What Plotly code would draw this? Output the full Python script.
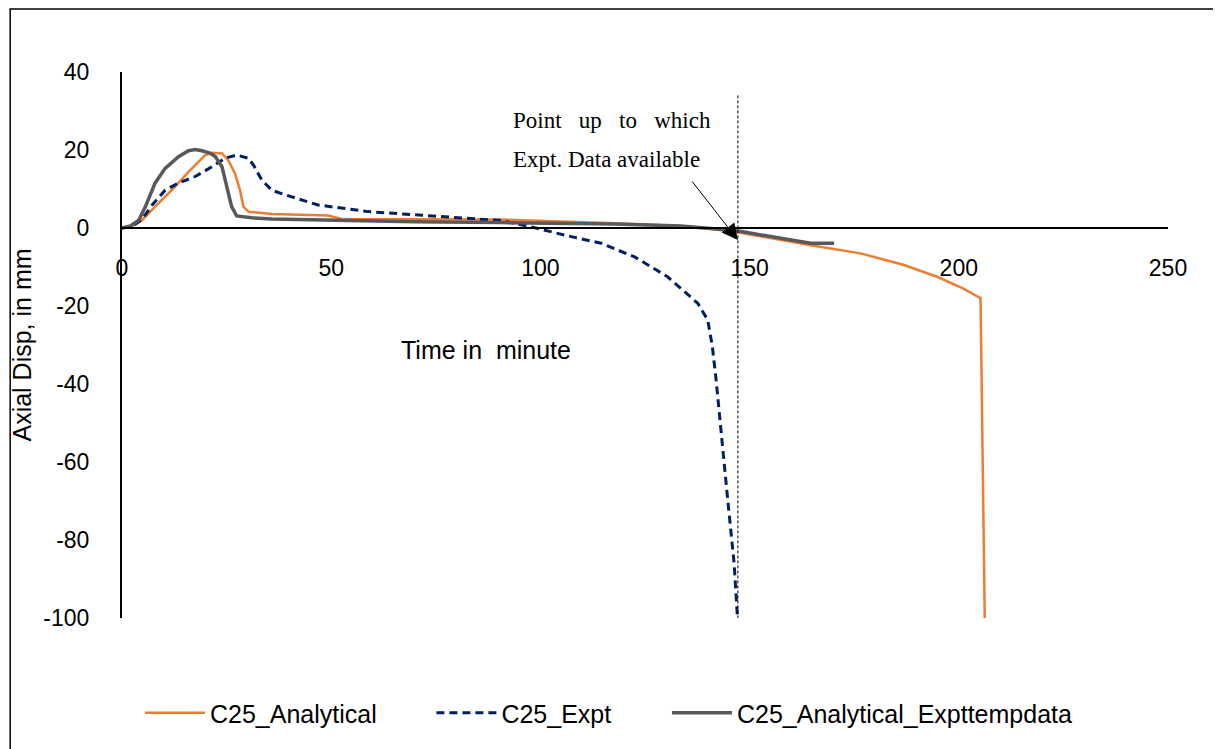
import plotly.graph_objects as go

# ---- data ----
analytical_time = [0, 2.5, 4.8, 7.9, 11.9, 15.9, 19.9, 21.5, 23.9, 25.4, 27, 28.2, 29, 30.2,
                   35.8, 49.3, 52.5, 70, 90.6, 117.7, 133.6, 140, 147.1, 164.6, 176.5,
                   186.9, 194.8, 201, 205.2, 206.2]
analytical_disp = [0, 0.6, 2, 5.5, 9.7, 14.4, 18.7, 19.3, 19.1, 17.4, 14, 9.7, 5.5, 4.2,
                   3.6, 3.2, 2.3, 2.2, 2.2, 1.2, 0.5, -0.1, -1.1, -4.4, -6.5,
                   -9.5, -12.5, -15.5, -18, -100]

expt_time = [0, 2.5, 4.8, 7.2, 10.3, 13.5, 17.5, 21.5, 24.6, 27.4, 30.2, 31.5, 33.4, 35.8,
             39, 46.9, 58.8, 70.8, 82.7, 90.6, 97.8, 105.7, 114.5, 122.5, 130.4, 137.6,
             140, 141.1, 142, 143.1, 144.7, 146.3, 147.1]
expt_disp = [0, 0.5, 2.2, 5.9, 9.7, 11.5, 13.2, 15.7, 17.9, 18.7, 17.9, 16, 12.3, 9.7,
             8.5, 5.9, 4.2, 3.3, 2.6, 1.9, 0.3, -1.8, -3.9, -7.4, -12.5, -19.3,
             -23.6, -30.4, -39, -51.8, -68.9, -86, -100]

exptemp_time = [0, 2, 4, 5.6, 7.9, 10.3, 13.5, 15.9, 17.5, 19.1, 21, 22.3, 23.9, 25, 26.2, 27.4,
                31, 35.8, 50.8, 70, 90.6, 117.7, 133.6, 140, 147.1, 155, 164.6, 170.2]
exptemp_disp = [0, 0.5, 2, 5.5, 11.5, 15.3, 18.3, 19.8, 20.1, 19.8, 19.2, 18.3, 15.7, 10.6, 5.5, 3.1,
                2.6, 2.3, 1.9, 1.6, 1.4, 1.0, 0.5, 0, -0.7, -2.2, -3.9, -3.9]

cutoff_time = 147.2
cutoff_top = 34
x_ticks = [0, 50, 100, 150, 200, 250]
y_ticks = [40, 20, 0, -20, -40, -60, -80, -100]
y_tick_text = [str(v) for v in y_ticks]

FONT = "Liberation Sans"

fig = go.Figure()
fig.add_trace(go.Scatter(x=analytical_time, y=analytical_disp, mode="lines",
                         name="C25_Analytical", legend="legend",
                         line=dict(color="#ED7D31", width=2.5)))
fig.add_trace(go.Scatter(x=expt_time, y=expt_disp, mode="lines",
                         name="C25_Expt", legend="legend2",
                         line=dict(color="#002060", width=3, dash="8px,5px")))
fig.add_trace(go.Scatter(x=exptemp_time, y=exptemp_disp, mode="lines",
                         name="C25_Analytical_Expttempdata", legend="legend3",
                         line=dict(color="#595959", width=3.5)))

# vertical dotted cutoff line
fig.add_shape(type="line", xref="x", yref="y", x0=cutoff_time, x1=cutoff_time,
              y0=cutoff_top, y1=-100, line=dict(color="black", width=1, dash="3px,2px"))

# outer border of the figure
fig.add_shape(type="rect", xref="paper", yref="paper",
              x0=-0.1069, x1=1.0458, y0=-0.245, y1=1.1154,
              line=dict(color="black", width=1.5), fillcolor="rgba(0,0,0,0)")

# annotations
fig.add_annotation(x=cutoff_time, y=-3.1, ax=136.0, ay=12.3, axref="x", ayref="y",
                   xref="x", yref="y", text="", showarrow=True,
                   arrowhead=2, arrowsize=3.2, arrowwidth=1, arrowcolor="black")
fig.add_annotation(x=0.372, y=0.912, xref="paper", yref="paper",
                   text="Point&nbsp;&nbsp; up&nbsp;&nbsp; to&nbsp;&nbsp; which",
                   showarrow=False, xanchor="left", yanchor="middle",
                   font=dict(family="Liberation Serif", size=23, color="black"))
fig.add_annotation(x=0.372, y=0.839, xref="paper", yref="paper",
                   text="Expt. Data available",
                   showarrow=False, xanchor="left", yanchor="middle",
                   font=dict(family="Liberation Serif", size=23, color="black"))
fig.add_annotation(x=87.0, y=-31.3, xref="x", yref="y", text="Time in&nbsp; minute",
                   showarrow=False, font=dict(family=FONT, size=25, color="black"))

legend_common = dict(orientation="h", y=-0.174, yanchor="middle", xanchor="left",
                     font=dict(family=FONT, size=25, color="black"),
                     itemwidth=60, bgcolor="rgba(0,0,0,0)")

fig.update_layout(
    width=1213, height=741,
    margin=dict(l=112, r=53, t=64, b=131),
    paper_bgcolor="white", plot_bgcolor="white",
    font=dict(family=FONT, size=22, color="black"),
    showlegend=True,
    legend=dict(x=0.0172, **legend_common),
    legend2=dict(x=0.2958, **legend_common),
    legend3=dict(x=0.521, **legend_common),
)
fig.update_xaxes(range=[0, 250], tickvals=x_ticks, showgrid=False, zeroline=False,
                 showline=True, linecolor="black", linewidth=2,
                 anchor="free", position=100 / 140, ticks="",
                 ticklabelstandoff=19, tickfont=dict(family=FONT, size=23))
fig.update_yaxes(range=[-100, 40], tickvals=y_ticks, ticktext=y_tick_text,
                 showgrid=False, zeroline=False,
                 showline=True, linecolor="black", linewidth=2, ticks="",
                 ticklabelstandoff=26, tickfont=dict(family=FONT, size=23),
                 title=dict(text="Axial Disp, in mm", standoff=6,
                            font=dict(family=FONT, size=25)))

fig.write_html("out.html")
